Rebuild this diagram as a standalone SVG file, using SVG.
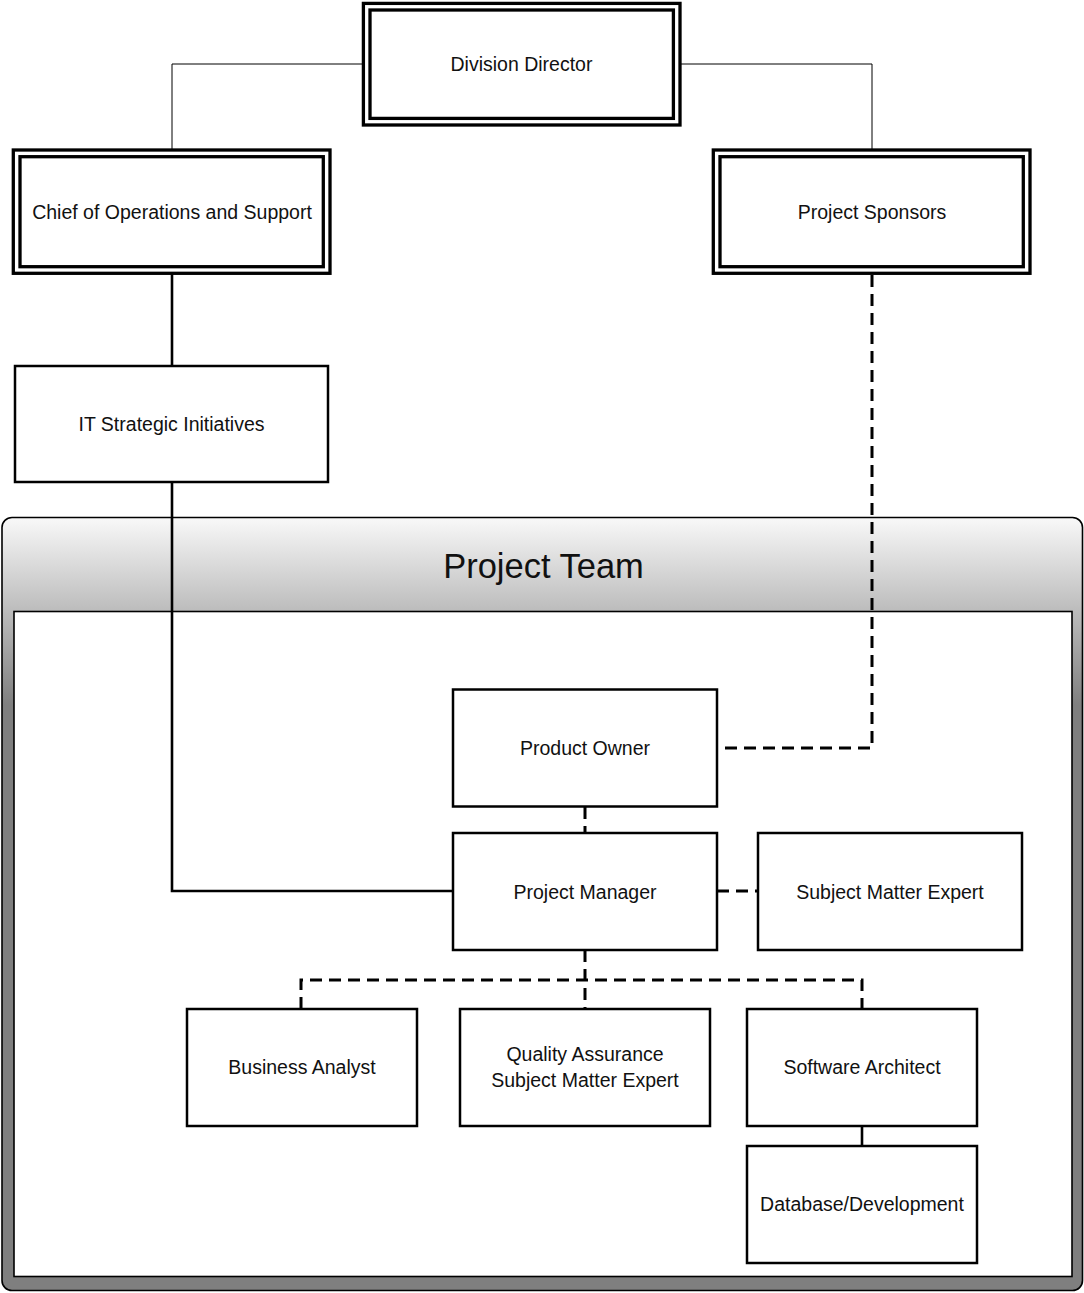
<svg xmlns="http://www.w3.org/2000/svg" width="1084" height="1293" viewBox="0 0 1084 1293">
<defs>
<linearGradient id="cont" gradientUnits="userSpaceOnUse" x1="0" y1="517" x2="0" y2="705">
<stop offset="0" stop-color="#f9f9f9"/>
<stop offset="1" stop-color="#7f7f7f"/>
</linearGradient>
<style>
.lbl{font-family:"Liberation Sans",Arial,sans-serif;font-size:19.5px;fill:#111;text-anchor:middle}
.box{fill:#fff;stroke:#000;stroke-width:2.5}
.dbl{fill:#fff;stroke:#000;stroke-width:3.3}
.thin{fill:none;stroke:#000;stroke-width:1}
.solid{fill:none;stroke:#000;stroke-width:2.6}
.dash{fill:none;stroke:#000;stroke-width:3;stroke-dasharray:12 7}
</style>
</defs>
<g id="container-project-team">
<rect x="2" y="517.5" width="1080.5" height="773" rx="10" fill="url(#cont)" stroke="#000" stroke-width="1.6"/>
<rect x="14" y="611.5" width="1058" height="665" fill="#fff" stroke="#000" stroke-width="1.6"/>
<text x="543.5" y="578" style="font-family:'Liberation Sans',Arial,sans-serif;font-size:34.5px;fill:#111;text-anchor:middle">Project Team</text>
</g>
<g id="connectors">
<polyline class="thin" points="363,64 172,64 172,150"/>
<polyline class="thin" points="680,64 872,64 872,150"/>
<line class="solid" x1="172" y1="273" x2="172" y2="366" stroke-width="3"/>
<polyline class="solid" points="172,482 172,891 453,891"/>
<polyline class="dash" points="872,275 872,748 717,748"/>
<line class="dash" x1="585" y1="807" x2="585" y2="833"/>
<line class="dash" x1="717" y1="891" x2="758" y2="891"/>
<line class="dash" x1="585" y1="950" x2="585" y2="1009"/>
<polyline class="dash" points="301,1009 301,980 862,980 862,1009"/>
<line class="solid" x1="862" y1="1126" x2="862" y2="1146"/>
</g>
<g id="node-division-director">
<rect class="dbl" x="363.4" y="3.4" width="316.6" height="121.6"/>
<rect class="dbl" x="370" y="10" width="303.4" height="108.4"/>
<text class="lbl" x="521.5" y="71">Division Director</text>
</g>
<g id="node-chief-operations">
<rect class="dbl" x="13.3" y="150" width="316.7" height="123.3"/>
<rect class="dbl" x="20" y="156.7" width="303.3" height="110"/>
<text class="lbl" x="172" y="219">Chief of Operations and Support</text>
</g>
<g id="node-project-sponsors">
<rect class="dbl" x="713.3" y="150" width="316.7" height="123.3"/>
<rect class="dbl" x="720" y="156.7" width="303.3" height="110"/>
<text class="lbl" x="872" y="219">Project Sponsors</text>
</g>
<g id="node-it-strategic">
<rect class="box" x="15" y="366" width="313" height="116"/>
<text class="lbl" x="171.5" y="431">IT Strategic Initiatives</text>
</g>
<g id="node-product-owner">
<rect class="box" x="453" y="689.5" width="264" height="117"/>
<text class="lbl" x="585" y="755">Product Owner</text>
</g>
<g id="node-project-manager">
<rect class="box" x="453" y="833" width="264" height="117"/>
<text class="lbl" x="585" y="899">Project Manager</text>
</g>
<g id="node-sme">
<rect class="box" x="758" y="833" width="264" height="117"/>
<text class="lbl" x="890" y="899">Subject Matter Expert</text>
</g>
<g id="node-business-analyst">
<rect class="box" x="187" y="1009" width="230" height="117"/>
<text class="lbl" x="302" y="1074">Business Analyst</text>
</g>
<g id="node-qa">
<rect class="box" x="460" y="1009" width="250" height="117"/>
<text class="lbl" x="585" y="1061">Quality Assurance</text>
<text class="lbl" x="585" y="1087">Subject Matter Expert</text>
</g>
<g id="node-software-architect">
<rect class="box" x="747" y="1009" width="230" height="117"/>
<text class="lbl" x="862" y="1074">Software Architect</text>
</g>
<g id="node-database">
<rect class="box" x="747" y="1146" width="230" height="117"/>
<text class="lbl" x="862" y="1211">Database/Development</text>
</g>
</svg>
